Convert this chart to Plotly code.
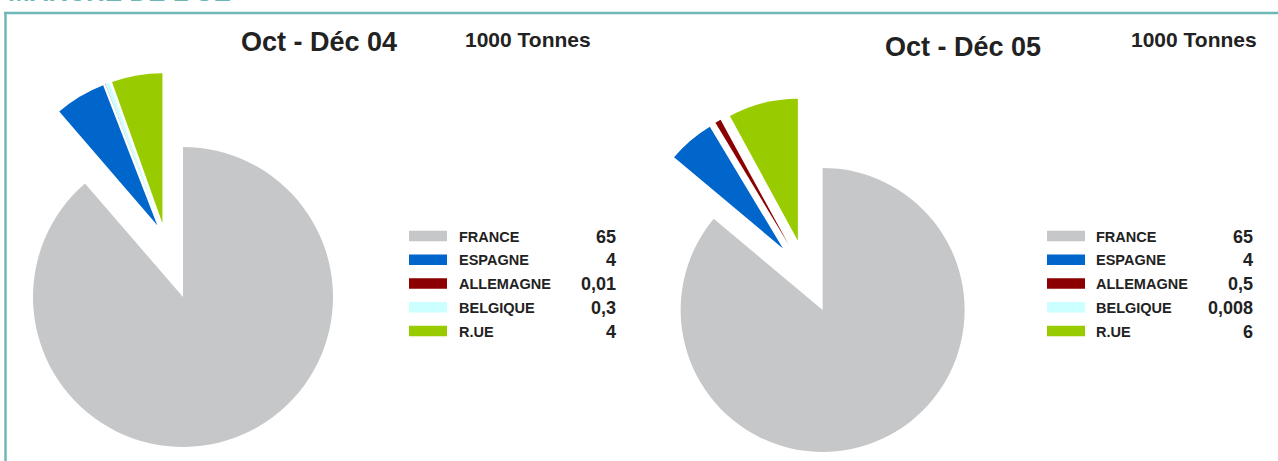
import plotly.graph_objects as go

W, H = 1278, 461

countries = ["FRANCE", "ESPAGNE", "ALLEMAGNE", "BELGIQUE", "R.UE"]
values_04 = [65, 4, 0.01, 0.3, 4]
values_05 = [65, 4, 0.5, 0.008, 6]
colors = ["#C6C7C9", "#0066CC", "#8B0000", "#CCFFFF", "#99CC00"]
titles = ["Oct - Déc 04", "Oct - Déc 05"]
unit = "1000 Tonnes"
header = "MARCHE DE L'UE"

TEAL = "#6DB8B4"
TXT = "#222222"
FONT = "Liberation Sans, Arial, sans-serif"


def dom(cx, cy, size):
    x0 = max(0.0, (cx - size / 2) / W)
    x1 = min(1.0, (cx + size / 2) / W)
    y0 = max(0.0, 1 - (cy + size / 2) / H)
    y1 = min(1.0, 1 - (cy - size / 2) / H)
    return dict(x=[x0, x1], y=[y0, y1])


def fmt(v):
    return f"{v:g}".replace(".", ",")


fig = go.Figure()

# ---- Pie 1 (Oct - Déc 04): France slice (not moved) + exploded small slices
colsA = [colors[0]] + ["rgba(0,0,0,0)"] * 4
fig.add_trace(go.Pie(
    labels=countries, values=values_04, sort=False, direction="clockwise",
    rotation=0, marker=dict(colors=colsA, line=dict(width=0)),
    textinfo="none", hoverinfo="skip", showlegend=False,
    domain=dom(183, 297, 300)))
colsB = ["rgba(0,0,0,0)"] + colors[1:]
fig.add_trace(go.Pie(
    labels=countries, values=values_04, sort=False, direction="clockwise",
    rotation=0, marker=dict(colors=colsB, line=dict(width=0)),
    pull=[0, 0.1, 0.1, 0.1, 0.1],
    textinfo="none", hoverinfo="skip", showlegend=False,
    domain=dom(165, 238, 330)))

# ---- Pie 2 (Oct - Déc 05): all slices exploded
fig.add_trace(go.Pie(
    labels=countries, values=values_05, sort=False, direction="clockwise",
    rotation=0, marker=dict(colors=colors, line=dict(width=0)),
    pull=[0.26] * 5,
    textinfo="none", hoverinfo="skip", showlegend=False,
    domain=dom(807, 276.5, 284 * 1.26)))

shapes = []
annotations = []


def px(x):
    return x / W


def py(y):
    return 1 - y / H


# frame
shapes.append(dict(type="line", xref="paper", yref="paper",
                   x0=px(4), x1=px(W), y0=py(13), y1=py(13),
                   line=dict(color=TEAL, width=2.5)))
shapes.append(dict(type="line", xref="paper", yref="paper",
                   x0=px(5.5), x1=px(5.5), y0=py(13), y1=0,
                   line=dict(color=TEAL, width=2.5)))

# header, cut off at the top edge as in the source
annotations.append(dict(text=f"<b>{header}</b>", xref="paper", yref="paper",
                        x=px(6), y=py(9.5), xanchor="left", yanchor="bottom",
                        showarrow=False, font=dict(family=FONT, size=26, color=TEAL)))

# titles and units
title_pos = [(319, 42), (963, 47)]
unit_pos = [(528, 39.5), (1193.5, 39.5)]
for t, (tx, ty), (ux, uy) in zip(titles, title_pos, unit_pos):
    annotations.append(dict(text=f"<b>{t}</b>", xref="paper", yref="paper",
                            x=px(tx), y=py(ty), xanchor="center", yanchor="middle",
                            showarrow=False, font=dict(family=FONT, size=27, color=TXT)))
    annotations.append(dict(text=f"<b>{unit}</b>", xref="paper", yref="paper",
                            x=px(ux), y=py(uy), xanchor="center", yanchor="middle",
                            showarrow=False, font=dict(family=FONT, size=21, color=TXT)))

# custom legends
legend_cfg = [
    dict(values=values_04, sw0=409, sw1=447, lab=457, val=618),
    dict(values=values_05, sw0=1047, sw1=1085, lab=1094, val=1255),
]
row0, drow = 236.5, 23.75
for cfg in legend_cfg:
    for i, (name, v, c) in enumerate(zip(countries, cfg["values"], colors)):
        yc = row0 + drow * i
        shapes.append(dict(type="rect", xref="paper", yref="paper",
                           x0=px(cfg["sw0"]), x1=px(cfg["sw1"]),
                           y0=py(yc + 4.8), y1=py(yc - 5.8),
                           line=dict(width=0), fillcolor=c))
        annotations.append(dict(text=f"<b>{name}</b>", xref="paper", yref="paper",
                                x=px(cfg["lab"]), y=py(yc), xanchor="left", yanchor="middle",
                                showarrow=False, font=dict(family=FONT, size=14.5, color=TXT)))
        annotations.append(dict(text=f"<b>{fmt(v)}</b>", xref="paper", yref="paper",
                                x=px(cfg["val"]), y=py(yc), xanchor="right", yanchor="middle",
                                showarrow=False, font=dict(family=FONT, size=18, color=TXT)))

fig.update_layout(
    width=W, height=H,
    margin=dict(l=0, r=0, t=0, b=0),
    paper_bgcolor="white", plot_bgcolor="white",
    shapes=shapes, annotations=annotations,
    showlegend=False,
)

fig.write_html("out.html",
               config={"displayModeBar": False},
               post_script="document.body.style.margin='0';"
                           "document.body.style.overflow='hidden';")
